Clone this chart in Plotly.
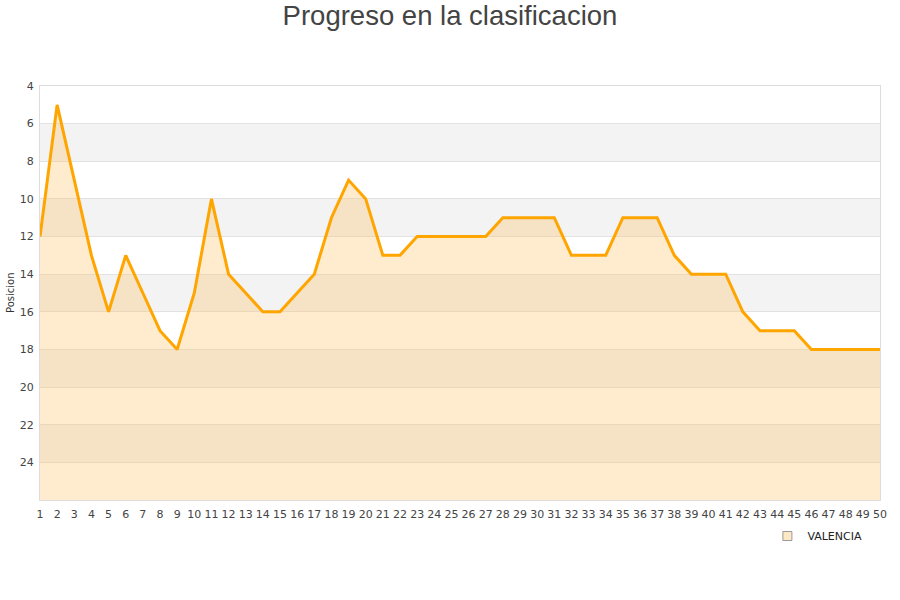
import plotly.graph_objects as go

jornadas = list(range(1, 51))
posiciones = [12, 5, 9, 13, 16, 13, 15, 17, 18, 15,
              10, 14, 15, 16, 16, 15, 14, 11, 9, 10,
              13, 13, 12, 12, 12, 12, 12, 11, 11, 11,
              11, 13, 13, 13, 11, 11, 11, 13, 14, 14,
              14, 16, 17, 17, 17, 18, 18, 18, 18, 18]
equipo = "VALENCIA"
y_ticks = list(range(4, 26, 2))
bands = [(6, 8), (10, 12), (14, 16), (18, 20), (22, 24)]
y_bottom = 26
y_top = 4

fig = go.Figure()
fig.add_trace(go.Scatter(x=jornadas, y=[y_bottom] * len(jornadas), mode="lines",
                         line=dict(width=0), showlegend=False, hoverinfo="skip"))
fig.add_trace(go.Scatter(x=jornadas, y=posiciones, mode="lines", fill="tonexty",
                         fillcolor="rgba(255,190,90,0.3)",
                         line=dict(color="#ffa500", width=3), showlegend=False, name=equipo))
fig.add_trace(go.Scatter(x=[None], y=[None], mode="markers", name=equipo,
                         marker=dict(symbol="square", size=9, color="#fde9c6",
                                     line=dict(color="#999", width=1))))

shapes = []
for a, b in bands:
    shapes.append(dict(type="rect", xref="paper", yref="y", x0=0, x1=1, y0=a, y1=b,
                       fillcolor="#f3f3f3", line=dict(width=0), layer="below"))

fig.update_layout(
    width=900, height=600,
    margin=dict(l=40, r=20, t=86, b=100, autoexpand=False),
    paper_bgcolor="white", plot_bgcolor="white",
    title=dict(text="Progreso en la clasificacion", x=0.5, xanchor="center", y=0.975, yanchor="middle",
               font=dict(family="Liberation Sans, Arial", size=27.5, color="#444")),
    font=dict(family="DejaVu Sans", size=11, color="#444"),
    shapes=shapes,
    showlegend=True,
    legend=dict(x=0.985, xanchor="right", y=-0.052, yanchor="top", orientation="h",
                font=dict(family="DejaVu Sans", size=11, color="#222"), bgcolor="rgba(0,0,0,0)"),
    xaxis=dict(range=[1, 50], tickmode="array", tickvals=jornadas, ticktext=[str(j) for j in jornadas],
               showgrid=False, zeroline=False, showline=True, linecolor="#ddd", mirror=True,
               ticks="", tickfont=dict(size=11, color="#444"), tickangle=0, automargin=False,
               ticklabelstandoff=4),
    yaxis=dict(range=[y_bottom, y_top], tickmode="array", tickvals=y_ticks,
               showgrid=True, gridcolor="#e2e2e2", gridwidth=1, zeroline=False,
               showline=True, linecolor="#ddd", mirror=True, ticks="", automargin=False,
               tickfont=dict(size=11, color="#444"), ticklabelstandoff=3),
    annotations=[dict(text="Posicion", textangle=-90, xref="paper", yref="paper",
                      x=-30 / 840, y=0.5, xanchor="center", yanchor="middle", showarrow=False,
                      font=dict(size=10, color="#333"))],
)

fig.write_html("out.html", config={"displayModeBar": False},
               post_script="document.body.style.margin='0';")
